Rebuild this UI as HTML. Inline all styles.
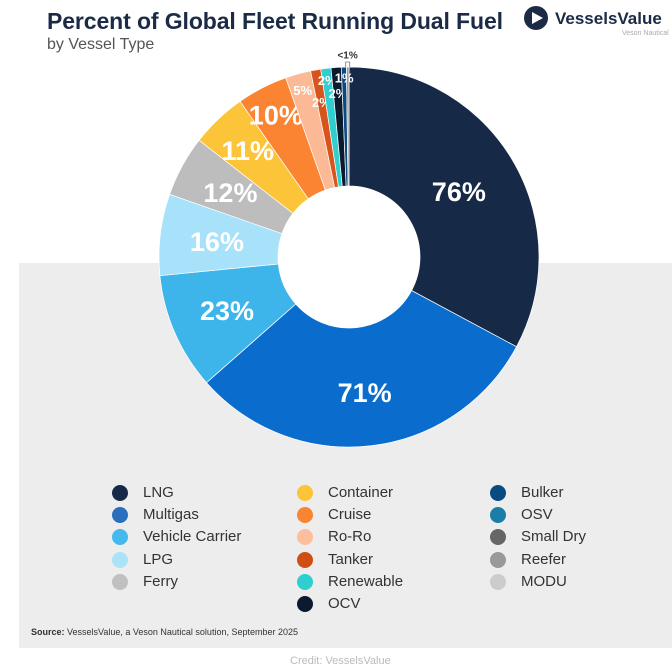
<!DOCTYPE html>
<html><head><meta charset="utf-8">
<style>
html,body{margin:0;padding:0;background:#fff;}
body{width:672px;height:662px;position:relative;overflow:hidden;font-family:"Liberation Sans",sans-serif;}
.bg{position:absolute;left:19px;top:263px;width:653px;height:385px;background:#ededed;}
.title{position:absolute;left:47px;top:8px;font-size:23px;font-weight:bold;color:#1b2b45;letter-spacing:-0.1px;}
.sub{position:absolute;left:47px;top:36px;font-size:16px;color:#555;}
.logo{position:absolute;left:522px;top:4px;}
.src{position:absolute;left:31px;top:627px;font-size:9px;color:#333;}
.credit{position:absolute;left:290px;top:655px;font-size:11px;color:#bbb;}
.leg{position:absolute;font-size:15px;color:#333;}
.dot{position:absolute;width:16px;height:16px;border-radius:50%;}
</style></head><body>
<div class="bg"></div>
<div class="title">Percent of Global Fleet Running Dual Fuel</div>
<div class="sub">by Vessel Type</div>
<div class="logo">
<svg width="150" height="36"><circle cx="14" cy="14" r="12" fill="#1b2b45"/><path d="M10 8 L21 14 L10 20 Z" fill="#fff"/>
<text x="33" y="20" font-family="Liberation Sans" font-weight="bold" font-size="17" fill="#1b2b45">VesselsValue</text>
<text x="100" y="31" font-family="Liberation Sans" font-size="7" fill="#aaa">Veson Nautical</text></svg></div>
<svg id="chart" width="672" height="662" style="position:absolute;left:0;top:0"></svg>
<div id="legend"></div>
<div class="src"><b>Source:</b> VesselsValue, a Veson Nautical solution, September 2025</div>
<div class="credit">Credit: VesselsValue</div>
<script>
const categories=["LNG","Multigas","Vehicle Carrier","LPG","Ferry","Container","Cruise","Ro-Ro","Tanker","Renewable","OCV","Bulker","OSV"];
const values=[76,71,23,16,12,11,10,5,2,2,2,1,0.5];
const valueLabels=["76%","71%","23%","16%","12%","11%","10%","5%","2%","2%","2%","1%","<1%"];
const colors=["#162a47","#0a6ccc","#3db5ea","#a8e2fa","#bdbdbd","#fcc438","#fb8433","#fbb996","#d9531c","#2fcfcf","#0b1a2e","#0b4a80","#9a9a9a"];
const legendNames=["LNG","Multigas","Vehicle Carrier","LPG","Ferry","Container","Cruise","Ro-Ro","Tanker","Renewable","OCV","Bulker","OSV","Small Dry","Reefer","MODU"];
const legendColors=["#162a47","#2a6fbd","#45b8ec","#ade3f9","#c0c0c0","#fcc438","#fb8433","#fdbf9b","#cf4f12","#2fcfcf","#0b1a2e","#0b4a80","#1a7ea6","#666666","#999999","#cccccc"];
const labelR=[128,136,133,133,135,147,160,173,157,178,164,179,0];
const NS="http://www.w3.org/2000/svg";
const svg=document.getElementById('chart');
const cx=349,cy=257,R=190,r0=71;
const total=values.reduce((a,b)=>a+b,0);
function angle(v){return v/total*2*Math.PI;}
function pt(a,rad){return [cx+rad*Math.sin(a),cy-rad*Math.cos(a)];}
let a=0;
values.forEach((v,i)=>{
  const a1=a+angle(v);
  const [x0,y0]=pt(a,R),[x1,y1]=pt(a1,R),[x2,y2]=pt(a1,r0),[x3,y3]=pt(a,r0);
  const large=(a1-a)>Math.PI?1:0;
  const p=document.createElementNS(NS,'path');
  p.setAttribute('d',`M${x0},${y0}A${R},${R} 0 ${large} 1 ${x1},${y1}L${x2},${y2}A${r0},${r0} 0 ${large} 0 ${x3},${y3}Z`);
  p.setAttribute('fill',colors[i]);
  p.setAttribute('stroke','#fff');p.setAttribute('stroke-width','0.7');
  
  
  svg.appendChild(p);
  const t=document.createElementNS(NS,'text');
  const mid=(a+a1)/2;
  let lx,ly,fs;
  if(labelR[i]===0){[lx,ly]=pt(mid,R+12);fs=10;t.setAttribute('fill','#333');
    const b=document.createElementNS(NS,'path');const [bx,by]=pt(mid,R+2);
    b.setAttribute('d',`M${bx-2},${by+2}V${by-3}H${bx+2}V${by+2}`);b.setAttribute('stroke','#777');b.setAttribute('fill','none');b.setAttribute('stroke-width','0.8');
    
    
    svg.appendChild(b);}
  else{[lx,ly]=pt(mid,labelR[i]);fs=v>=10?27:13;t.setAttribute('fill','#fff');}
  t.setAttribute('x',lx);t.setAttribute('y',ly+fs*0.36);
  t.setAttribute('text-anchor','middle');t.setAttribute('font-size',fs);t.setAttribute('font-weight','bold');
  t.setAttribute('font-family','Liberation Sans, sans-serif');
  t.textContent=valueLabels[i];
  
  
  svg.appendChild(t);
  a=a1;
});
const hole=document.createElementNS(NS,'circle');
hole.setAttribute('cx',cx);hole.setAttribute('cy',cy);hole.setAttribute('r',r0);hole.setAttribute('fill','#fff');


svg.appendChild(hole);
const leg=document.getElementById('legend');
const colX=[120,305,498],rowY=[493,515,537,560,582,604],perCol=[5,6,5];
let idx=0;
perCol.forEach((n,c)=>{for(let k=0;k<n;k++){
  const i=idx++;
  const d=document.createElement('div');d.className='dot';
  d.style.left=(colX[c]-8)+'px';d.style.top=(rowY[k]-8)+'px';d.style.background=legendColors[i];
  
  
  leg.appendChild(d);
  const s=document.createElement('div');s.className='leg';
  s.style.left=(colX[c]+23)+'px';s.style.top=(rowY[k]-9)+'px';s.textContent=legendNames[i];
  
  
  leg.appendChild(s);
}});
</script>
</body></html>
